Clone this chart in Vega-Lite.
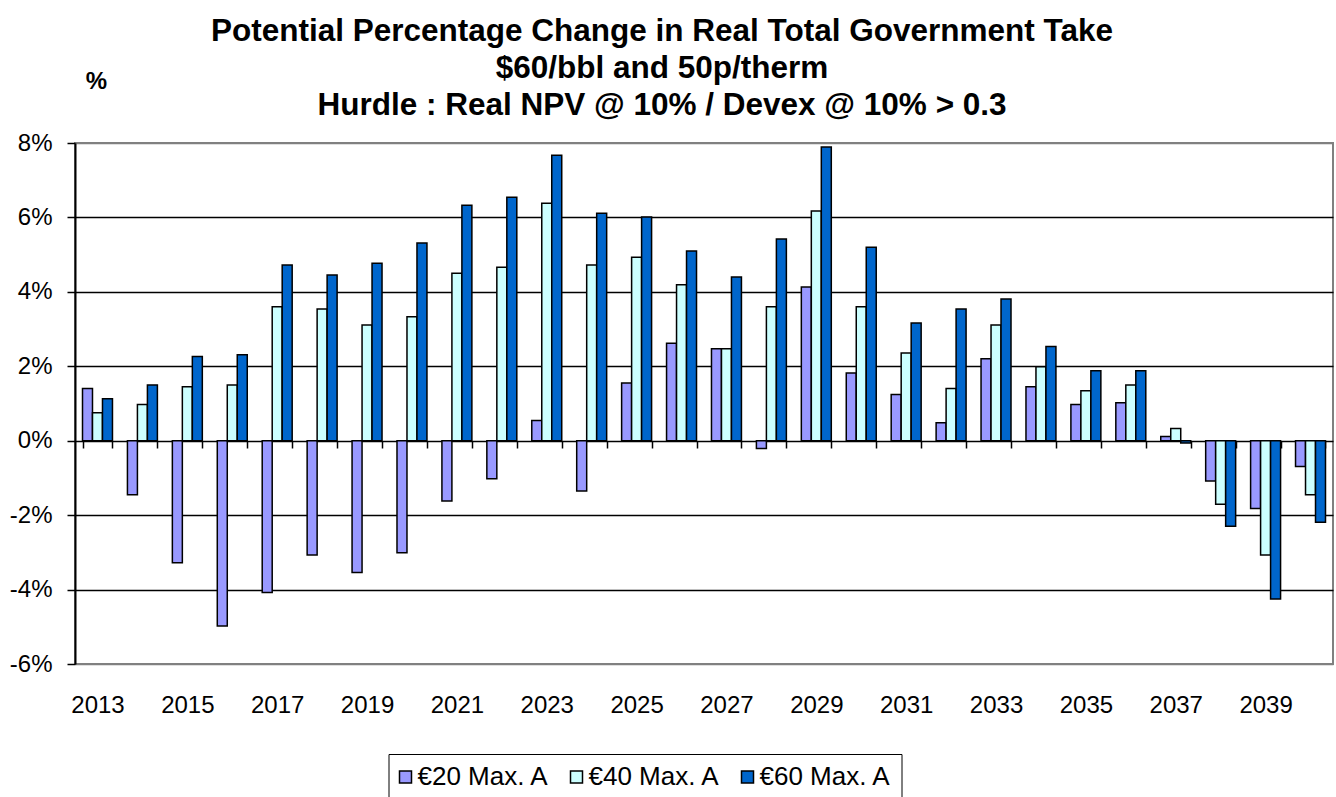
{
  "$schema": "https://vega.github.io/schema/vega-lite/v6.json",
  "width": 1258,
  "height": 521,
  "autosize": {"type": "none"},
  "padding": {"left": 75, "top": 143, "right": 3, "bottom": 133},
  "background": "white",
  "title": {
    "text": ["Potential Percentage Change in Real Total Government Take", "$60/bbl and 50p/therm", "Hurdle : Real NPV @ 10% /  Devex @ 10% > 0.3"],
    "font": "Liberation Sans",
    "fontSize": 31.5,
    "fontWeight": "bold",
    "lineHeight": 37,
    "color": "black",
    "anchor": "middle",
    "dx": -42,
    "offset": -52
  },
  "config": {
    "view": {"stroke": "#808080", "strokeWidth": 2},
    "axis": {"labelFont": "Liberation Sans", "titleFont": "Liberation Sans", "labelColor": "black", "titleColor": "black"}
  },
  "data": {
    "values": [
      {"year": 2013, "series": "€20 Max. A", "change": 1.40}, {"year": 2013, "series": "€40 Max. A", "change": 0.75}, {"year": 2013, "series": "€60 Max. A", "change": 1.13},
      {"year": 2014, "series": "€20 Max. A", "change": -1.45}, {"year": 2014, "series": "€40 Max. A", "change": 0.97}, {"year": 2014, "series": "€60 Max. A", "change": 1.50},
      {"year": 2015, "series": "€20 Max. A", "change": -3.28}, {"year": 2015, "series": "€40 Max. A", "change": 1.45}, {"year": 2015, "series": "€60 Max. A", "change": 2.26},
      {"year": 2016, "series": "€20 Max. A", "change": -4.98}, {"year": 2016, "series": "€40 Max. A", "change": 1.50}, {"year": 2016, "series": "€60 Max. A", "change": 2.31},
      {"year": 2017, "series": "€20 Max. A", "change": -4.08}, {"year": 2017, "series": "€40 Max. A", "change": 3.60}, {"year": 2017, "series": "€60 Max. A", "change": 4.72},
      {"year": 2018, "series": "€20 Max. A", "change": -3.07}, {"year": 2018, "series": "€40 Max. A", "change": 3.54}, {"year": 2018, "series": "€60 Max. A", "change": 4.45},
      {"year": 2019, "series": "€20 Max. A", "change": -3.54}, {"year": 2019, "series": "€40 Max. A", "change": 3.11}, {"year": 2019, "series": "€60 Max. A", "change": 4.77},
      {"year": 2020, "series": "€20 Max. A", "change": -3.01}, {"year": 2020, "series": "€40 Max. A", "change": 3.33}, {"year": 2020, "series": "€60 Max. A", "change": 5.31},
      {"year": 2021, "series": "€20 Max. A", "change": -1.62}, {"year": 2021, "series": "€40 Max. A", "change": 4.50}, {"year": 2021, "series": "€60 Max. A", "change": 6.33},
      {"year": 2022, "series": "€20 Max. A", "change": -1.02}, {"year": 2022, "series": "€40 Max. A", "change": 4.66}, {"year": 2022, "series": "€60 Max. A", "change": 6.54},
      {"year": 2023, "series": "€20 Max. A", "change": 0.54}, {"year": 2023, "series": "€40 Max. A", "change": 6.38}, {"year": 2023, "series": "€60 Max. A", "change": 7.67},
      {"year": 2024, "series": "€20 Max. A", "change": -1.35}, {"year": 2024, "series": "€40 Max. A", "change": 4.72}, {"year": 2024, "series": "€60 Max. A", "change": 6.11},
      {"year": 2025, "series": "€20 Max. A", "change": 1.55}, {"year": 2025, "series": "€40 Max. A", "change": 4.93}, {"year": 2025, "series": "€60 Max. A", "change": 6.01},
      {"year": 2026, "series": "€20 Max. A", "change": 2.62}, {"year": 2026, "series": "€40 Max. A", "change": 4.19}, {"year": 2026, "series": "€60 Max. A", "change": 5.10},
      {"year": 2027, "series": "€20 Max. A", "change": 2.47}, {"year": 2027, "series": "€40 Max. A", "change": 2.47}, {"year": 2027, "series": "€60 Max. A", "change": 4.40},
      {"year": 2028, "series": "€20 Max. A", "change": -0.21}, {"year": 2028, "series": "€40 Max. A", "change": 3.60}, {"year": 2028, "series": "€60 Max. A", "change": 5.42},
      {"year": 2029, "series": "€20 Max. A", "change": 4.13}, {"year": 2029, "series": "€40 Max. A", "change": 6.17}, {"year": 2029, "series": "€60 Max. A", "change": 7.89},
      {"year": 2030, "series": "€20 Max. A", "change": 1.82}, {"year": 2030, "series": "€40 Max. A", "change": 3.60}, {"year": 2030, "series": "€60 Max. A", "change": 5.20},
      {"year": 2031, "series": "€20 Max. A", "change": 1.24}, {"year": 2031, "series": "€40 Max. A", "change": 2.36}, {"year": 2031, "series": "€60 Max. A", "change": 3.16},
      {"year": 2032, "series": "€20 Max. A", "change": 0.48}, {"year": 2032, "series": "€40 Max. A", "change": 1.40}, {"year": 2032, "series": "€60 Max. A", "change": 3.54},
      {"year": 2033, "series": "€20 Max. A", "change": 2.20}, {"year": 2033, "series": "€40 Max. A", "change": 3.11}, {"year": 2033, "series": "€60 Max. A", "change": 3.81},
      {"year": 2034, "series": "€20 Max. A", "change": 1.45}, {"year": 2034, "series": "€40 Max. A", "change": 1.99}, {"year": 2034, "series": "€60 Max. A", "change": 2.53},
      {"year": 2035, "series": "€20 Max. A", "change": 0.97}, {"year": 2035, "series": "€40 Max. A", "change": 1.34}, {"year": 2035, "series": "€60 Max. A", "change": 1.88},
      {"year": 2036, "series": "€20 Max. A", "change": 1.02}, {"year": 2036, "series": "€40 Max. A", "change": 1.50}, {"year": 2036, "series": "€60 Max. A", "change": 1.88},
      {"year": 2037, "series": "€20 Max. A", "change": 0.11}, {"year": 2037, "series": "€40 Max. A", "change": 0.33}, {"year": 2037, "series": "€60 Max. A", "change": -0.06},
      {"year": 2038, "series": "€20 Max. A", "change": -1.08}, {"year": 2038, "series": "€40 Max. A", "change": -1.71}, {"year": 2038, "series": "€60 Max. A", "change": -2.30},
      {"year": 2039, "series": "€20 Max. A", "change": -1.82}, {"year": 2039, "series": "€40 Max. A", "change": -3.07}, {"year": 2039, "series": "€60 Max. A", "change": -4.25},
      {"year": 2040, "series": "€20 Max. A", "change": -0.69}, {"year": 2040, "series": "€40 Max. A", "change": -1.45}, {"year": 2040, "series": "€60 Max. A", "change": -2.19}
    ]
  },
  "mark": {"type": "bar", "stroke": "black", "strokeWidth": 1.5},
  "encoding": {
    "x": {
      "field": "year",
      "type": "ordinal",
      "scale": {"paddingInner": 0.333, "paddingOuter": 0.167},
      "axis": {
        "title": null,
        "orient": "bottom",
        "offset": -223,
        "domain": false,
        "ticks": true,
        "tickBand": "extent",
        "tickSize": 7,
        "tickWidth": 1.5,
        "tickColor": "black",
        "labelAngle": 0,
        "labelFontSize": 24,
        "labelPadding": 245,
        "labelOverlap": false,
        "labelExpr": "datum.value % 2 == 1 ? datum.label : ''",
        "grid": false
      }
    },
    "xOffset": {"field": "series", "type": "nominal", "sort": ["€20 Max. A", "€40 Max. A", "€60 Max. A"], "scale": {"paddingInner": 0, "paddingOuter": 0}},
    "y": {
      "field": "change",
      "type": "quantitative",
      "scale": {"domain": [-6, 8], "nice": false, "zero": false},
      "axis": {
        "values": [-6, -4, -2, 0, 2, 4, 6, 8],
        "labelExpr": "datum.value + '%'",
        "labelFontSize": 24,
        "labelPadding": 15,
        "tickSize": 8,
        "tickWidth": 1.5,
        "tickColor": "black",
        "domainColor": "black",
        "domainWidth": 2,
        "grid": true,
        "gridColor": {"condition": {"test": "datum.value == 8 || datum.value == -6", "value": "#808080"}, "value": "black"},
        "gridWidth": 1.6,
        "gridOpacity": 1,
        "title": "%",
        "titleFontSize": 24,
        "titleFontWeight": "bold",
        "titleAngle": 0,
        "titleAlign": "center",
        "titleBaseline": "middle",
        "titleX": 21,
        "titleY": -62
      }
    },
    "color": {
      "field": "series",
      "type": "nominal",
      "scale": {"domain": ["€20 Max. A", "€40 Max. A", "€60 Max. A"], "range": ["#9999FF", "#CCFFFF", "#0066CC"]},
      "legend": {
        "title": null,
        "orient": "none",
        "direction": "horizontal",
        "columns": 3,
        "legendX": 313.5,
        "legendY": 611,
        "strokeColor": "black",
        "padding": 10,
        "fillColor": "white",
        "symbolType": "square",
        "symbolSize": 144,
        "symbolStrokeColor": "black",
        "symbolStrokeWidth": 1.5,
        "symbolOpacity": 1,
        "symbolOffset": -6,
        "labelFont": "Liberation Sans",
        "labelFontSize": 26,
        "labelColor": "black",
        "labelOffset": -1,
        "labelLimit": 300,
        "columnPadding": 18
      }
    }
  }
}
